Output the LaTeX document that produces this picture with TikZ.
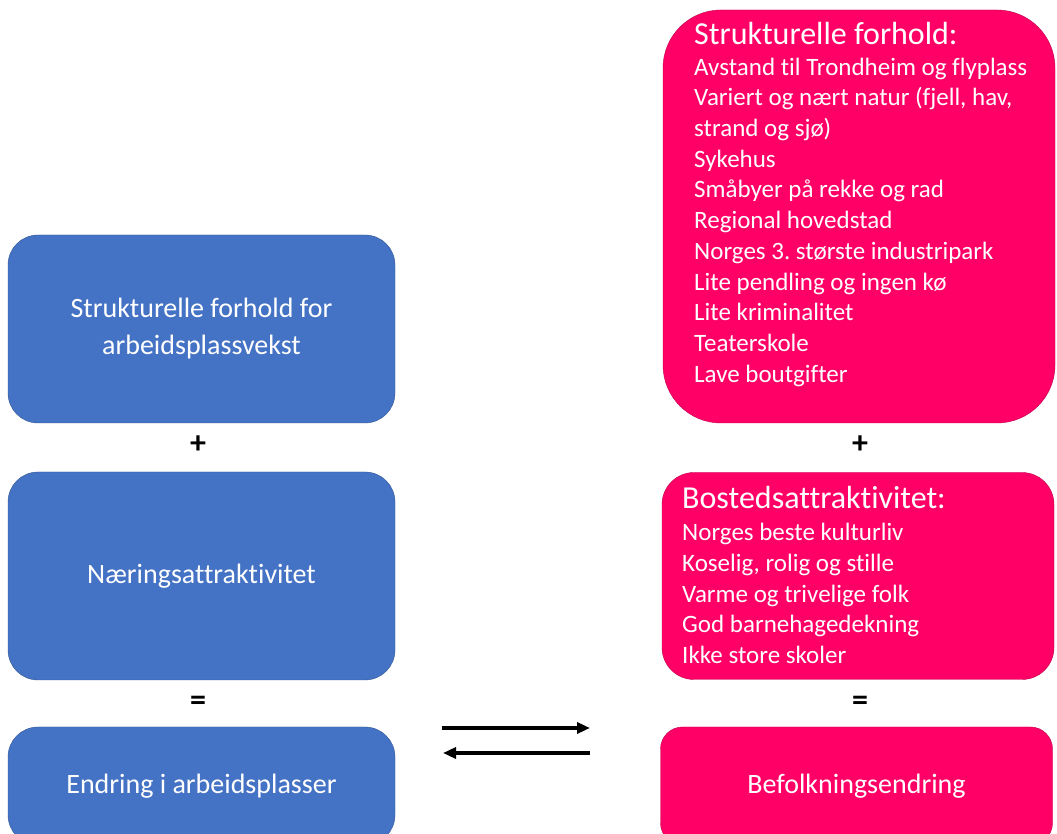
\documentclass[tikz,border=0pt]{standalone}
\usepackage{fontspec}
\setmainfont{Carlito}[Ligatures=NoCommon]
\usetikzlibrary{arrows.meta}
\definecolor{jobblue}{RGB}{68,114,196}
\definecolor{livepink}{RGB}{255,0,102}
\frenchspacing

\begin{document}
\begin{tikzpicture}[x=1pt,y=1pt]
    \useasboundingbox (0,0) rectangle (1057,834);

    % left column: arbeidsplasser
    \begin{scope}[every node/.style={rounded corners=30pt,draw=jobblue!75!black,fill=jobblue,
        text=white,align=center,minimum width=387pt,font=\fontsize{28}{37}\selectfont}]
      \node[minimum height=188pt] (jobs) at (201.5,505) {Strukturelle forhold for\\arbeidsplassvekst};
      \node[minimum height=208pt] (trade) at (201.5,258) {N\ae ringsattraktivitet};
      \node[minimum height=118pt] (jobchange) at (201.5,48) {Endring i arbeidsplasser};
    \end{scope}

    % right column: befolkning
    \begin{scope}[every node/.style={draw=livepink!75!black,fill=livepink,minimum width=392pt}]
      \node[rounded corners=58pt,minimum height=413pt] (struct) at (859,617.5) {};
      \node[rounded corners=32pt,minimum height=207pt] (home) at (858,258) {};
      \node[rounded corners=22pt,minimum height=118pt,text=white,
        font=\fontsize{28}{34}\selectfont] (popchange) at (856.5,48) {Befolkningsendring};
    \end{scope}

    \begin{scope}[every node/.style={text=white,align=left,inner sep=0pt,anchor=north west,
        font=\fontsize{25}{30.7}\selectfont}]
      \node (structtext) at (694,812) {{\fontsize{32}{38}\selectfont Strukturelle forhold:}\\
        Avstand til Trondheim og flyplass\\
        Variert og n\ae rt natur (fjell, hav,\\
        strand og sj\o)\\
        Sykehus\\
        Sm\aa byer p\aa\ rekke og rad\\
        Regional hovedstad\\
        Norges 3. st\o rste industripark\\
        Lite pendling og ingen k\o\\
        Lite kriminalitet\\
        Teaterskole\\
        Lave boutgifter};
      \node (hometext) at (682,348) {{\fontsize{32}{38}\selectfont Bostedsattraktivitet:}\\[1.5pt]
        Norges beste kulturliv\\
        Koselig, rolig og stille\\
        Varme og trivelige folk\\
        God barnehagedekning\\
        Ikke store skoler};
    \end{scope}

    % operators
    \begin{scope}[every node/.style={font=\fontsize{32}{32}\selectfont\bfseries}]
      \node (plusL) at (198,389) {+};
      \node (eqL) at (198,131) {=};
      \node (plusR) at (860,389) {+};
      \node (eqR) at (860,131) {=};
    \end{scope}

    \coordinate (toA) at (442,106);
    \coordinate (toB) at (590,106);
    \coordinate (fromA) at (590,81);
    \coordinate (fromB) at (443,81);

    \begin{scope}[>={Triangle[length=13pt,width=11pt]},
        every edge/.style={draw=black,line width=3.5pt}]
      \path [->] (toA) edge (toB);
      \path [->] (fromA) edge (fromB);
    \end{scope}
  \end{tikzpicture}
\end{document}
